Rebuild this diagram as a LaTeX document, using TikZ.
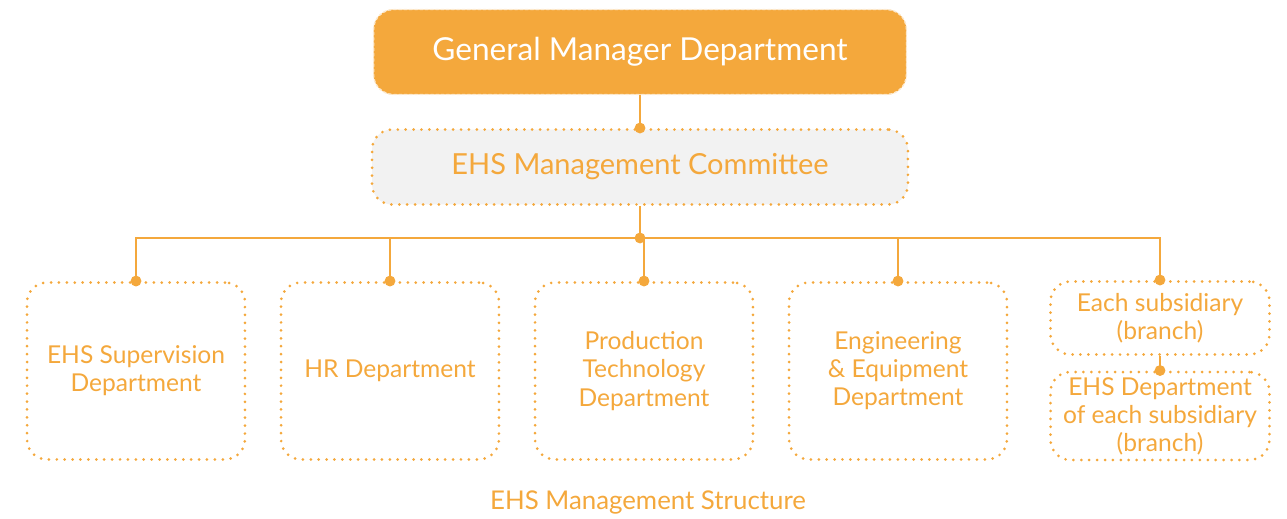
\documentclass[tikz,border=0pt]{standalone}
\usepackage{fontspec}
\setmainfont{Lato}
\usetikzlibrary{positioning,calc}
\definecolor{ehsorange}{HTML}{F4A83C}
\definecolor{ehsgray}{HTML}{F2F2F2}

\begin{document}
\begin{tikzpicture}[x=0.02cm, y=-0.02cm,
    box/.style={rounded corners=0.4cm, draw=ehsorange, line width=1.7pt, line cap=round,
      dash pattern=on 0pt off 4.5pt, text=ehsorange, align=center, inner sep=2pt},
    deptbox/.style={box, minimum width=4.36cm, minimum height=3.54cm,
      font=\fontsize{14}{16}\selectfont},
    link/.style={ehsorange, line width=1.5pt},
    dot/.style={fill=ehsorange}]
  \useasboundingbox (0,0) rectangle (1287,518);

  % top levels
  \node[box, fill=ehsorange, draw=white!75!ehsorange, line width=0.8pt, dash pattern=on 1.5pt off 1.5pt,
    text=white, minimum width=10.66cm, minimum height=1.7cm,
    font=\fontsize{18}{21}\selectfont] (gm) at (640,52) {General Manager Department};
  \node[box, fill=ehsgray, minimum width=10.72cm, minimum height=1.5cm,
    font=\fontsize{16.5}{18}\selectfont] (comm) at (640,167) {EHS Management Committee};
  \coordinate (hub) at (640,238);

  % departments
  \node[deptbox] (sup) at (136,371) {EHS Supervision\\Department};
  \node[deptbox] (hr) at (390,371) {HR Department};
  \node[deptbox] (prod) at (644,371) {Production\\Technology\\Department};
  \node[deptbox] (eng) at (898,371) {Engineering\\\& Equipment\\Department};
  \node[box, minimum width=4.38cm, minimum height=1.46cm,
    font=\fontsize{14}{16}\selectfont] (sub) at (1160,318) {Each subsidiary\\(branch)};
  \node[box, minimum width=4.38cm, minimum height=1.76cm,
    font=\fontsize{14}{16}\selectfont] (subehs) at (1160,416) {EHS Department\\of each subsidiary\\(branch)};

  % connectors
  \draw[link] (gm.south) -- (comm.north);
  \draw[link] (comm.south) -- (hub);
  \foreach \d in {sup,hr,prod,eng,sub}
    \draw[link] (hub) -| (\d.north);
  \draw[link] (sub.south) -- (subehs.north);
  \foreach \p in {comm.north,hub,sup.north,hr.north,prod.north,eng.north,sub.north,subehs.north}
    \fill[dot] (\p) circle (3.1pt);

  \node[text=ehsorange, font=\fontsize{14.7}{17}\selectfont] (title) at (648,502) {EHS Management Structure};
\end{tikzpicture}
\end{document}
